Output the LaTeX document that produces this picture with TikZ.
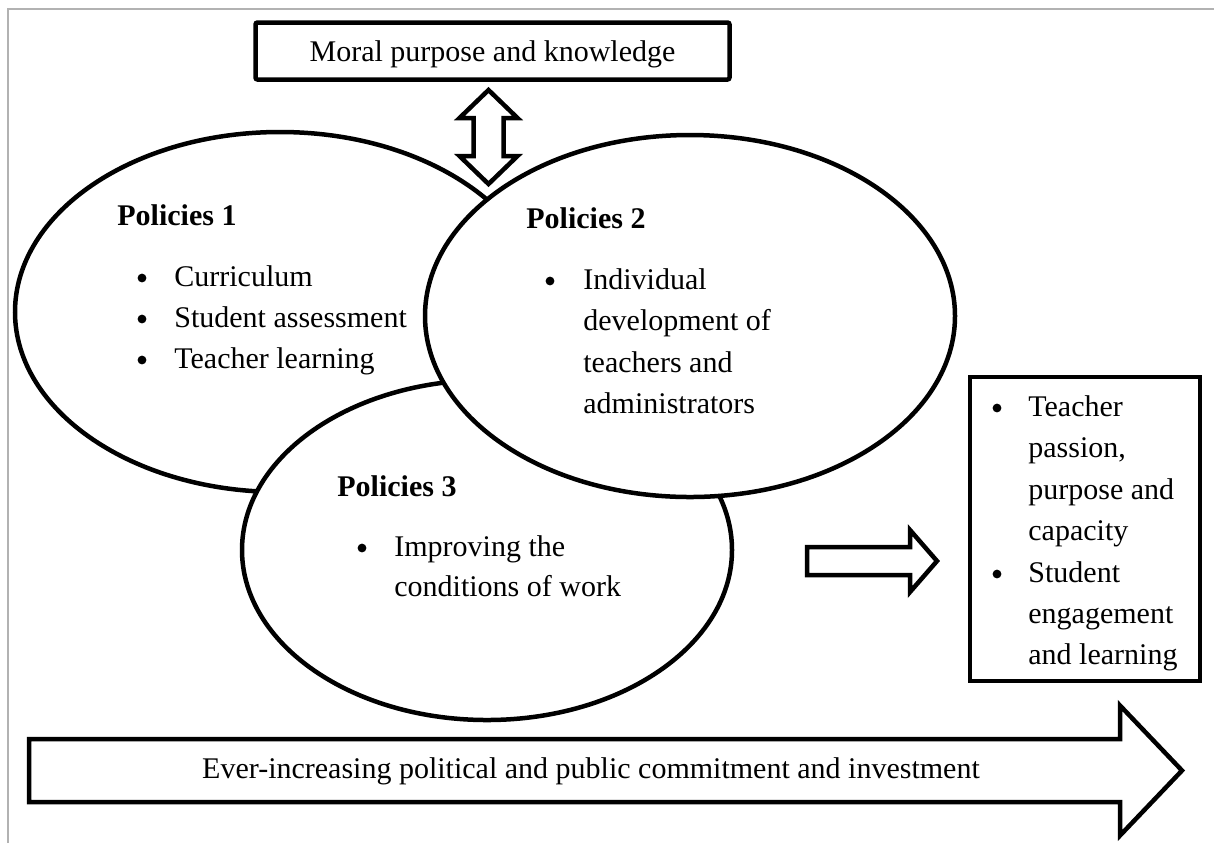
\documentclass[tikz,border=0pt]{standalone}
\usepackage{fontspec}
\setmainfont{Liberation Serif}
\usetikzlibrary{shapes.geometric}
\begin{document}
\begin{tikzpicture}[x=0.5pt,y=-0.5pt,
  outline/.style={draw=black,line width=2.25pt,fill=white,line join=miter},
  policy/.style={outline,ellipse,inner sep=0pt},
  bodyfont/.style={font=\fontsize{15}{18}\selectfont},
  txt/.style={bodyfont,anchor=base west,inner sep=0pt},
  head/.style={anchor=base west,inner sep=0pt,font=\fontsize{15}{18}\selectfont\bfseries},
  bullet/.style={circle,fill=black,inner sep=0pt,minimum size=4.4pt},
  ctext/.style={bodyfont,anchor=base,inner sep=0pt},
  frameline/.style={draw=black!30,line width=1.1pt},
]
\useasboundingbox (0,0) rectangle (1214,843);

% page frame (top and left rules)
\draw[frameline] (8,843) -- (8,9) -- (1214,9);

% the three overlapping policy ellipses
\node[policy,minimum width=265pt,minimum height=180pt] (p1) at (280,312) {};
\node[policy,minimum width=245pt,minimum height=170pt] (p3) at (487,550) {};
\node[policy,minimum width=265pt,minimum height=181pt] (p2) at (690,316) {};

% top box
\node[outline,rounded corners=1pt,minimum width=237pt,minimum height=28.5pt,inner sep=0pt] (moral) at (492.5,51) {};
\node[ctext] (moraltxt) at (492.5,61) {Moral purpose and knowledge};

% double-headed block arrow
\draw[outline,shift={(488.5,137)}]
  (0,-47) -- (29,-19) -- (15,-19) -- (15,19) -- (29,19) -- (0,47)
  -- (-29,19) -- (-15,19) -- (-15,-19) -- (-29,-19) -- cycle;

% outcomes box
\node[outline,minimum width=115pt,minimum height=152pt,inner sep=0pt] (outcome) at (1085,529) {};

% block arrow towards the outcomes
\draw[outline,shift={(872,561)}]
  (-65,-14) -- (38,-14) -- (38,-31) -- (65,0) -- (38,31) -- (38,14) -- (-65,14) -- cycle;

% long commitment arrow
\draw[outline,shift={(0,770.5)}]
  (29,-31.5) -- (1120,-31.5) -- (1120,-65) -- (1182,0) -- (1120,65) -- (1120,31.5) -- (29,31.5) -- cycle;
\node[ctext] (commit) at (591,778) {Ever-increasing political and public commitment and investment};

% Policies 1
\node[head] (h1) at (117,225) {Policies 1};
\node[bullet] (b11) at (142,278) {};
\node[txt] (t11) at (174,286) {Curriculum};
\node[bullet] (b12) at (142,319) {};
\node[txt] (t12) at (174,327) {Student assessment};
\node[bullet] (b13) at (142,360) {};
\node[txt] (t13) at (174,368) {Teacher learning};

% Policies 2
\node[head] (h2) at (526,228) {Policies 2};
\node[bullet] (b21) at (550,281) {};
\node[txt] (t21) at (583,289) {Individual};
\node[txt] (t22) at (583,330.5) {development of};
\node[txt] (t23) at (583,372) {teachers and};
\node[txt] (t24) at (583,413.5) {administrators};

% Policies 3
\node[head] (h3) at (337,496) {Policies 3};
\node[bullet] (b31) at (362,548) {};
\node[txt] (t31) at (394,556) {Improving the};
\node[txt] (t32) at (394,596) {conditions of work};

% outcomes
\node[bullet] (o1) at (997,408) {};
\node[txt] (o11) at (1028,416) {Teacher};
\node[txt] (o12) at (1028,457) {passion,};
\node[txt] (o13) at (1028,499) {purpose and};
\node[txt] (o14) at (1028,540) {capacity};
\node[bullet] (o2) at (997,574) {};
\node[txt] (o21) at (1028,582) {Student};
\node[txt] (o22) at (1028,623) {engagement};
\node[txt] (o23) at (1028,664) {and learning};
\end{tikzpicture}
\end{document}
